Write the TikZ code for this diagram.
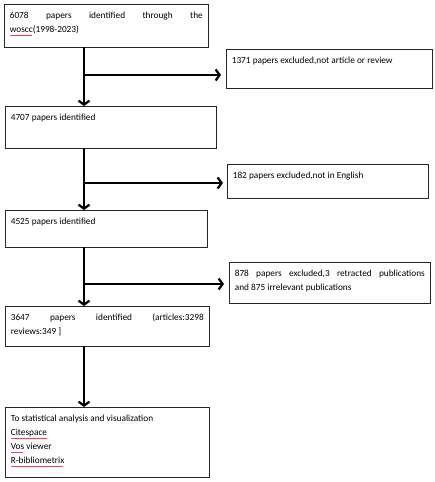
\documentclass[tikz,border=0pt]{standalone}
\usepackage{fontspec}
\setmainfont{Carlito}
\usepackage{xcolor}
\usetikzlibrary{arrows.meta}
\usetikzlibrary{graphs}

% red wavy underline, as the spell checker left it
\newcommand{\redwave}[1]{\setbox0\hbox{#1}%
  \rlap{\textcolor{red!75}{\raisebox{-2.8pt}{\leaders\hbox to 2pt{\rule[0pt]{0.8pt}{0.4pt}\hskip0.2pt\rule[0.5pt]{0.8pt}{0.4pt}\hskip0.2pt}\hskip\wd0}}}#1}

% box text: width and height of the frame, text on top
\newcommand{\boxtext}[3]{\parbox[t][\dimexpr#2pt-9pt\relax][t]{\dimexpr#1pt-11pt\relax}{\sloppy\rule{0pt}{10pt}#3}}

\tikzset{
  stage/.style={draw=black!85, line width=0.6pt, anchor=north west,
    inner xsep=5.5pt, inner ysep=4.5pt, font=\fontsize{9.3}{14}\selectfont},
  flow/.style={line width=2.2pt, -{Straight Barb[length=4pt,width=11pt]}},
}

\begin{document}
\begin{tikzpicture}[x=1pt,y=-1pt]
  \useasboundingbox (0,0) rectangle (435,482);
  \node[stage] (id1) at (4,4) {\boxtext{204}{43}{6078 papers identified through the\linebreak \redwave{woscc}(1998-2023)}};
  \node[stage] (ex1) at (226,49) {\boxtext{206}{39}{1371 papers excluded,not article or review}};
  \node[stage] (id2) at (5,106) {\boxtext{211}{42}{4707 papers identified}};
  \node[stage] (ex2) at (227,164) {\boxtext{201}{34}{182 papers excluded,not in English}};
  \node[stage] (id3) at (5,210) {\boxtext{202}{37}{4525 papers identified}};
  \node[stage] (ex3) at (229,262) {\boxtext{201}{41}{878 papers excluded,3 retracted publications\linebreak and 875 irrelevant publications}};
  \node[stage] (id4) at (5,306) {\boxtext{204}{40}{3647 papers identified (articles:3298\linebreak reviews:349 ]}};
  \node[stage] (tools) at (5,407) {\boxtext{204}{70}{To statistical analysis and visualization\\
    \redwave{Citespace}\\
    \redwave{Vos} viewer\\
    \redwave{R-bibliometrix}}};

  \coordinate (s1) at (84,47);
  \coordinate (m1) at (84,75);
  \coordinate (t1) at (84,106);
  \coordinate (e1) at (221,75);
  \coordinate (s2) at (84,148);
  \coordinate (m2) at (84,183);
  \coordinate (t2) at (84,210);
  \coordinate (e2) at (223,183);
  \coordinate (s3) at (84,247);
  \coordinate (m3) at (84,284);
  \coordinate (t3) at (84,306);
  \coordinate (e3) at (224,284);
  \coordinate (s4) at (84,346);
  \coordinate (t4) at (84,407);

  \graph[edges={flow}]{(s1) -> (t1)};
  \graph[edges={flow}]{(m1) -> (e1)};
  \graph[edges={flow}]{(s2) -> (t2)};
  \graph[edges={flow}]{(m2) -> (e2)};
  \graph[edges={flow}]{(s3) -> (t3)};
  \graph[edges={flow}]{(m3) -> (e3)};
  \graph[edges={flow}]{(s4) -> (t4)};
\end{tikzpicture}
\end{document}
